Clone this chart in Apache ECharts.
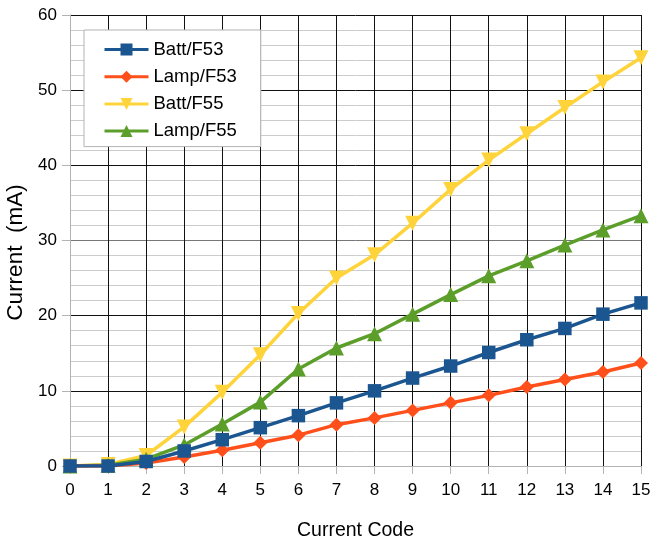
<!DOCTYPE html>
<html>
<head>
<meta charset="utf-8">
<script src="https://cdn.jsdelivr.net/npm/echarts@6/dist/echarts.min.js"></script>
<style>
  html, body { margin: 0; padding: 0; background: #fff; }
  #main { width: 657px; height: 552px; }
</style>
</head>
<body>
<div id="main"></div>
<script>
// current code on the x axis
var codes = [0, 1, 2, 3, 4, 5, 6, 7, 8, 9, 10, 11, 12, 13, 14, 15];

// measured current, mA
var battF53 = [0, 0, 0.6, 2.0, 3.5, 5.1, 6.7, 8.4, 10.0, 11.7, 13.3, 15.1, 16.8, 18.3, 20.2, 21.7];
var lampF53 = [0, 0, 0.4, 1.2, 2.1, 3.1, 4.1, 5.5, 6.4, 7.4, 8.4, 9.4, 10.5, 11.5, 12.5, 13.7];
var battF55 = [0, 0.2, 1.4, 5.2, 9.8, 14.8, 20.3, 25.0, 28.1, 32.3, 36.8, 40.7, 44.2, 47.7, 51.1, 54.3];
var lampF55 = [0, 0.1, 0.9, 2.8, 5.6, 8.5, 12.9, 15.7, 17.6, 20.2, 22.8, 25.3, 27.3, 29.4, 31.4, 33.3];

var names = ['Batt/F53', 'Lamp/F53', 'Batt/F55', 'Lamp/F55'];

function pairs(vals) {
    return codes.map(function (c, i) { return [c, vals[i]]; });
}

var myChart = echarts.init(document.getElementById('main'));

var font = 'Liberation Sans, Arial, sans-serif';

option = {
    animation: false,
    textStyle: { fontFamily: font },
    grid: {
        left: 70,
        right: 16,
        top: 15,
        bottom: 86,
        containLabel: false,
        outerBoundsMode: 'none'
    },
    legend: {
        orient: 'vertical',
        left: 84,
        top: 30,
        data: names,
        backgroundColor: '#fff',
        borderColor: '#b3b3b3',
        borderWidth: 1,
        borderRadius: 0,
        padding: [10, 24, 6, 19],
        itemWidth: 44,
        itemHeight: 15,
        itemGap: 8.2,
        lineStyle: { width: 3 },
        textStyle: {
            fontFamily: font,
            fontSize: 18.5,
            color: '#000',
            lineHeight: 16
        }
    },
    xAxis: {
        type: 'value',
        min: 0,
        max: 15,
        interval: 1,
        name: 'Current Code',
        nameLocation: 'middle',
        nameGap: 55,
        nameTextStyle: { fontFamily: font, fontSize: 19.5, color: '#000' },
        axisLine: { show: true, lineStyle: { color: '#b3b3b3', width: 1 } },
        axisTick: { show: true, length: 8, lineStyle: { color: '#b3b3b3' } },
        axisLabel: { fontFamily: font, fontSize: 17, color: '#000', margin: 16 },
        splitLine: {
            show: true,
            lineStyle: {
                color: ['#b3b3b3', '#111', '#111', '#111', '#111', '#111', '#111', '#111',
                        '#111', '#111', '#111', '#111', '#111', '#111', '#111', '#111'],
                width: 1
            }
        }
    },
    yAxis: {
        type: 'value',
        min: 0,
        max: 60,
        interval: 10,
        name: 'Current  (mA)',
        nameLocation: 'middle',
        nameGap: 38,
        nameTextStyle: {
            fontFamily: font,
            fontSize: 22.5,
            color: '#000',
            padding: [0, 24, 0, 0]
        },
        axisLine: { show: true, lineStyle: { color: '#b3b3b3', width: 1 } },
        axisTick: { show: true, length: 8, lineStyle: { color: '#b3b3b3' } },
        axisLabel: { fontFamily: font, fontSize: 17, color: '#000', margin: 13 },
        splitLine: {
            show: true,
            lineStyle: {
                color: ['#b3b3b3', '#111', '#111', '#777', '#111', '#111', '#111'],
                width: 1
            }
        },
        minorTick: { show: false, splitNumber: 5 },
        minorSplitLine: { show: true, lineStyle: { color: '#cccccc', width: 1 } }
    },
    series: [
        {
            name: names[0],
            type: 'line',
            z: 5,
            data: pairs(battF53),
            symbol: 'rect',
            symbolSize: 13.5,
            itemStyle: { color: '#1b5690' },
            lineStyle: { color: '#1b5690', width: 3.5 }
        },
        {
            name: names[1],
            type: 'line',
            z: 4,
            data: pairs(lampF53),
            symbol: 'diamond',
            symbolSize: 14,
            itemStyle: { color: '#ff4f1a' },
            lineStyle: { color: '#ff4f1a', width: 3.5 }
        },
        {
            name: names[2],
            type: 'line',
            z: 2,
            data: pairs(battF55),
            symbol: 'triangle',
            symbolRotate: 180,
            symbolSize: 15,
            itemStyle: { color: '#ffd33a' },
            lineStyle: { color: '#ffd33a', width: 3.5 }
        },
        {
            name: names[3],
            type: 'line',
            z: 3,
            data: pairs(lampF55),
            symbol: 'triangle',
            symbolSize: 15,
            itemStyle: { color: '#5c9e2a' },
            lineStyle: { color: '#5c9e2a', width: 3.5 }
        }
    ]
};

if (option && typeof option === "object") {
    myChart.setOption(option, true);
}
</script>
</body>
</html>
